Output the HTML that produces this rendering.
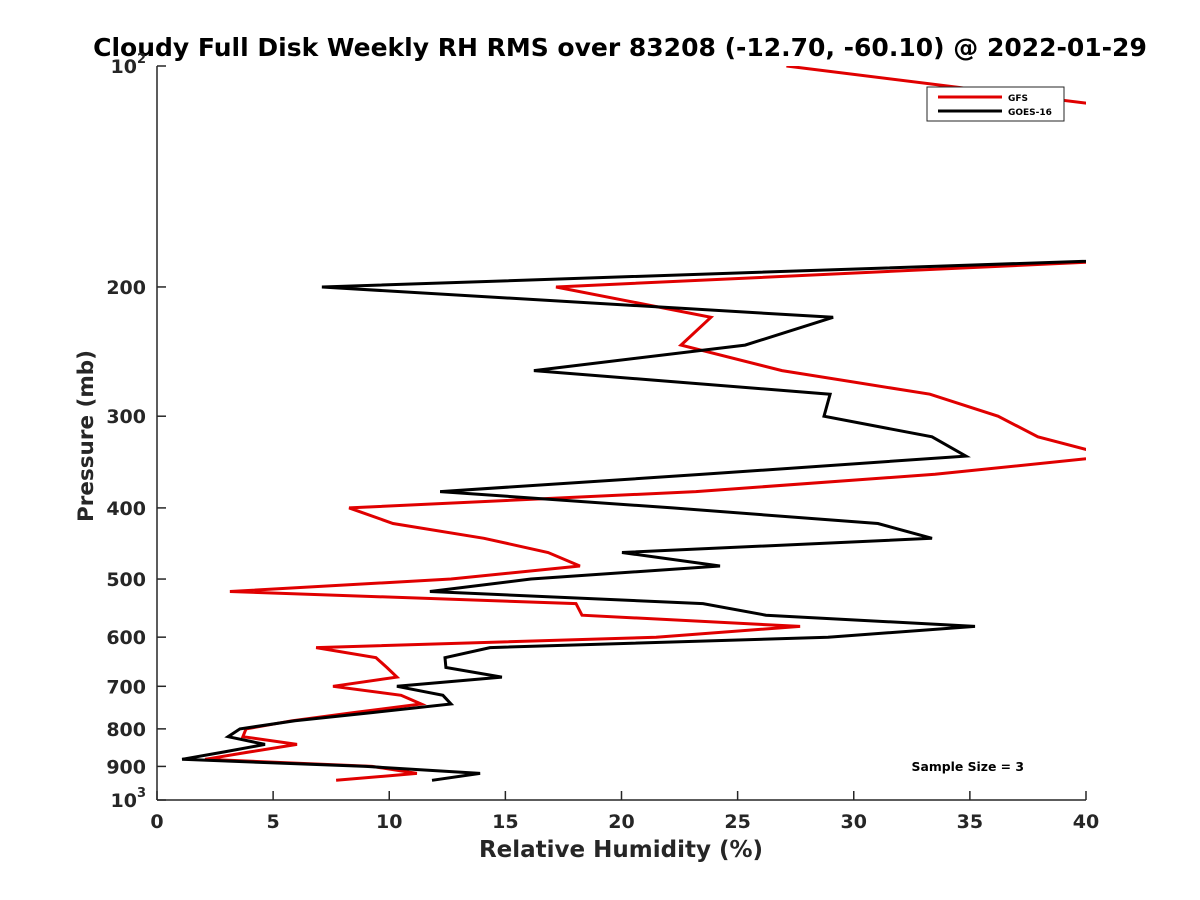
<!DOCTYPE html>
<html><head><meta charset="utf-8"><style>
html,body{margin:0;padding:0;background:#fff;}
svg{display:block;font-family:"DejaVu Sans","Liberation Sans",sans-serif;font-weight:bold;}
</style></head><body>
<svg id="chart" width="1200" height="900" viewBox="0 0 1200 900" xmlns="http://www.w3.org/2000/svg">
<defs><clipPath id="plotclip"><rect x="157" y="66" width="929" height="734"/></clipPath></defs>
<rect width="1200" height="900" fill="#fff"/>
<text x="620" y="56" text-anchor="middle" font-size="25" fill="#000">Cloudy Full Disk Weekly RH RMS over 83208 (-12.70, -60.10) @ 2022-01-29</text>
<g id="axes"></g>
<g id="series" clip-path="url(#plotclip)"></g>
<text x="621" y="857" text-anchor="middle" font-size="23" fill="#262626">Relative Humidity (%)</text>
<text transform="translate(93,436) rotate(-90)" text-anchor="middle" font-size="21.5" fill="#262626">Pressure (mb)</text>
<text x="1024" y="771" text-anchor="end" font-size="12.4" fill="#000">Sample Size = 3</text>
<g>
<rect x="927" y="87" width="137" height="34" fill="#fff" stroke="#262626" stroke-width="1"/>
<line x1="938" y1="97" x2="1002" y2="97" stroke="#e00000" stroke-width="3"/>
<text x="1008" y="101" font-size="9" fill="#000">GFS</text>
<line x1="938" y1="111" x2="1002" y2="111" stroke="#000" stroke-width="3"/>
<text x="1008" y="115" font-size="9" fill="#000">GOES-16</text>
</g>
</svg>
<script>
const pressures = [100,150,175,200,220,240,260,280,300,320,340,360,380,400,420,440,460,480,500,520,540,560,580,600,620,640,660,680,700,720,740,760,780,800,820,840,860,880,900,920,940];
const gfsValues = [27.1,72,56.4,17.18,23.85,22.56,26.91,33.28,36.21,37.93,41.1,33.5,23.2,8.27,10.16,14.08,16.84,18.21,12.66,3.14,18.04,18.3,27.69,21.49,6.85,9.43,9.9,10.33,7.58,10.51,11.37,8.5,5.8,3.83,3.70,6.03,4.0,2.07,9.26,11.19,7.71];
const goesValues = [60,70,61.5,7.10,29.11,25.32,16.23,28.98,28.72,33.37,34.83,23.5,12.19,22.2,31.04,33.37,20.02,24.24,16.10,11.75,23.51,26.22,35.22,28.89,14.34,12.40,12.44,14.85,10.33,12.31,12.66,9.3,5.94,3.57,3.06,4.65,2.9,1.08,9.0,13.91,11.84];
const xTicks = [0,5,10,15,20,25,30,35,40];
const yTicks = [200,300,400,500,600,700,800,900];

const L=157,R=1086,T=66,B=800;
function xs(v){return L+(v-0)/(40-0)*(R-L);}
function ys(p){return T+(Math.log10(p)-2)*(B-T);}
const NS="http://www.w3.org/2000/svg";
const axes=document.getElementById('axes');
function mk(tag,attrs,parent){const e=document.createElementNS(NS,tag);for(const k in attrs)e.setAttribute(k,attrs[k]);parent.appendChild(e);return e;}

let e=mk('line',{x1:L,y1:T,x2:L,y2:B,stroke:'#262626','stroke-width':1.5},axes);


e=mk('line',{x1:L,y1:B,x2:R,y2:B,stroke:'#262626','stroke-width':1.5},axes);



xTicks.forEach(v=>{
  const x=xs(v);
  const t=mk('line',{x1:x,y1:B,x2:x,y2:B-9,stroke:'#262626','stroke-width':1.5},axes);
  
  
  const lb=mk('text',{x:x,y:B+28,'text-anchor':'middle','font-size':19,fill:'#262626'},axes);
  lb.textContent=v;
  
  
});
yTicks.forEach(p=>{
  const y=ys(p);
  const t=mk('line',{x1:L,y1:y,x2:L+9,y2:y,stroke:'#262626','stroke-width':1.5},axes);
  
  
  const lb=mk('text',{x:L-11,y:y+7,'text-anchor':'end','font-size':19,fill:'#262626'},axes);
  lb.textContent=p;
  
  
});
[[100,'2'],[1000,'3']].forEach(([p,ex])=>{
  const y=ys(p);
  const t=mk('line',{x1:L,y1:y,x2:L+9,y2:y,stroke:'#262626','stroke-width':1.5},axes);
  
  
  const lb=mk('text',{x:L-20,y:y+7,'text-anchor':'end','font-size':19,fill:'#262626'},axes);
  lb.textContent='10';
  
  
  const sp=mk('text',{x:L-20,y:y-3,'font-size':13,fill:'#262626'},axes);
  sp.textContent=ex;
  
  
});

const series=document.getElementById('series');
function drawLine(vals,color,name){
  const pts=vals.map((v,i)=>xs(v).toFixed(1)+','+ys(pressures[i]).toFixed(1)).join(' ');
  const pl=mk('polyline',{points:pts,fill:'none',stroke:color,'stroke-width':3,'stroke-linejoin':'miter'},series);
  
  
}
drawLine(gfsValues,'#e00000','gfs-line');
drawLine(goesValues,'#000000','goes16-line');
</script>
</body></html>
